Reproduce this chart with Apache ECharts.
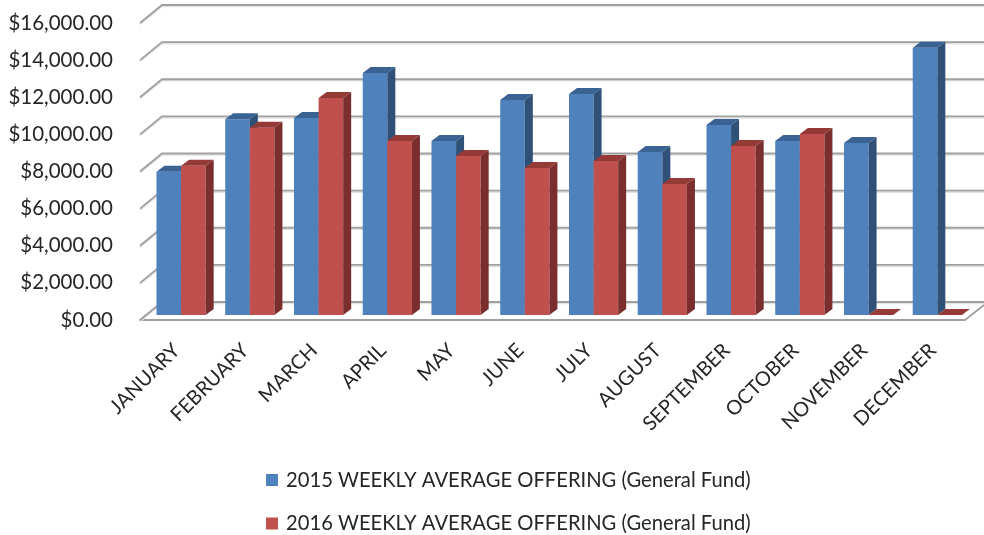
<!DOCTYPE html>
<html lang="en">

<head>
    <meta charset="UTF-8">
    <title>Weekly average offering</title>
    <script src="https://cdn.jsdelivr.net/npm/echarts@6/dist/echarts.min.js"></script>
    <style>
        html,
        body {
            margin: 0;
            background: #fff;
        }

        #chart {
            width: 984px;
            height: 535px;
        }
    </style>
</head>

<body>
    <div id="chart"></div>
    <script>
        const months = ['JANUARY', 'FEBRUARY', 'MARCH', 'APRIL', 'MAY', 'JUNE', 'JULY', 'AUGUST', 'SEPTEMBER', 'OCTOBER', 'NOVEMBER', 'DECEMBER'];
        const offering2015 = [7720, 10540, 10610, 13040, 9375, 11580, 11900, 8780, 10240, 9375, 9270, 14400];
        const offering2016 = [8040, 10090, 11690, 9375, 8570, 7920, 8300, 7060, 9100, 9750, 0, 0];
        const yTicks = [0, 2000, 4000, 6000, 8000, 10000, 12000, 14000, 16000];
        const name2015 = '2015 WEEKLY AVERAGE OFFERING (General Fund)';
        const name2016 = '2016 WEEKLY AVERAGE OFFERING (General Fund)';

        const font = 'Lato';
        const textColor = '#262626';

        // pseudo 3D: back wall sits this far behind the front plane, bars sit part way in
        const wallDx = 22, wallDy = -18;
        const barDx = 6.7, barDy = -5;
        const barW = 24.6, sideDx = 8, sideDy = -6;

        function gridLines(params, api) {
            const p = api.coord([0, api.value(1)]);
            const left = params.coordSys.x;
            const pts = [[left, p[1]], [left + wallDx, p[1] + wallDy], [api.getWidth(), p[1] + wallDy]];
            const line = (points, color, width) => ({
                type: 'polyline',
                shape: { points: points },
                style: { fill: null, stroke: color, lineWidth: width }
            });
            const shadow = pts.map(q => [q[0], q[1] + 1.5]);
            return {
                type: 'group',
                children: [line(shadow, '#e2e2e2', 1.5), line(pts, '#a0a0a0', 1.8)]
            };
        }

        function floorEdge(params, api) {
            // right hand edge of the floor, front corner to back wall
            const r = params.coordSys.x + params.coordSys.width;
            const y = params.coordSys.y + params.coordSys.height;
            return {
                type: 'polyline',
                shape: { points: [[r, y], [r + 19, y - 15]] },
                style: { fill: null, stroke: '#a0a0a0', lineWidth: 1.8 }
            };
        }

        function barItem(colors, side) {
            return function (params, api) {
                const top = api.coord([api.value(0), api.value(1)]);
                const base = api.coord([api.value(0), 0]);
                const x0 = top[0] + barDx + (side < 0 ? -barW : 0);
                const x1 = x0 + barW;
                const y0 = top[1] + barDy;
                const y1 = base[1] + barDy;
                const poly = (points, color) => ({
                    type: 'polygon',
                    shape: { points: points },
                    style: { fill: color }
                });
                return {
                    type: 'group',
                    children: [
                        poly([[x0, y0], [x1, y0], [x1, y1], [x0, y1]], colors[0]),
                        poly([[x0, y0], [x0 + sideDx, y0 + sideDy], [x1 + sideDx, y0 + sideDy], [x1, y0]], colors[1]),
                        poly([[x1, y0], [x1 + sideDx, y0 + sideDy], [x1 + sideDx, y1 + sideDy], [x1, y1]], colors[2])
                    ]
                };
            };
        }

        const chart = echarts.init(document.getElementById('chart'), null, { renderer: 'canvas' });
        chart.setOption({
            animation: false,
            backgroundColor: '#fff',
            grid: { left: 140, right: 19, top: 23, bottom: 215 },
            xAxis: {
                type: 'category',
                data: months,
                axisTick: { show: false },
                axisLine: { lineStyle: { color: '#a0a0a0', width: 2 } },
                axisLabel: {
                    rotate: 45,
                    interval: 0,
                    margin: 25,
                    verticalAlign: 'top',
                    lineHeight: 6,
                    fontFamily: font,
                    fontSize: 20,
                    color: textColor
                }
            },
            yAxis: {
                type: 'value',
                min: 0,
                max: 16000,
                interval: 2000,
                axisLine: { show: false },
                axisTick: { show: false },
                splitLine: { show: false },
                axisLabel: {
                    margin: 27,
                    fontFamily: font,
                    fontSize: 20.5,
                    color: textColor,
                    formatter: v => '$' + v.toLocaleString('en-US', { minimumFractionDigits: 2 })
                }
            },
            legend: {
                data: [name2015, name2016],
                orient: 'vertical',
                left: 266,
                top: 470,
                height: 65,
                padding: 0,
                itemWidth: 12,
                itemHeight: 12,
                itemGap: 23.5,
                icon: 'rect',
                textStyle: { fontFamily: font, fontSize: 20.2, color: textColor, padding: [0, 0, 0, 3] }
            },
            series: [
                {
                    type: 'custom',
                    silent: true,
                    z: 1,
                    clip: false,
                    renderItem: gridLines,
                    encode: { x: 0, y: 1 },
                    data: yTicks.map(v => [0, v])
                },
                {
                    type: 'custom',
                    silent: true,
                    z: 1,
                    clip: false,
                    renderItem: floorEdge,
                    encode: { x: 0, y: 1 },
                    data: [[0, 0]]
                },
                {
                    name: name2015,
                    type: 'custom',
                    z: 2,
                    clip: false,
                    itemStyle: { color: '#4f81bd' },
                    renderItem: barItem(['#4f81bd', '#3a6293', '#2f5178'], -1),
                    encode: { x: 0, y: 1 },
                    data: offering2015.map((v, i) => [i, v])
                },
                {
                    name: name2016,
                    type: 'custom',
                    z: 3,
                    clip: false,
                    itemStyle: { color: '#c0504d' },
                    renderItem: barItem(['#c0504d', '#963a38', '#7a2e2d'], 1),
                    encode: { x: 0, y: 1 },
                    data: offering2016.map((v, i) => [i, v])
                }
            ]
        });
    </script>
</body>

</html>
